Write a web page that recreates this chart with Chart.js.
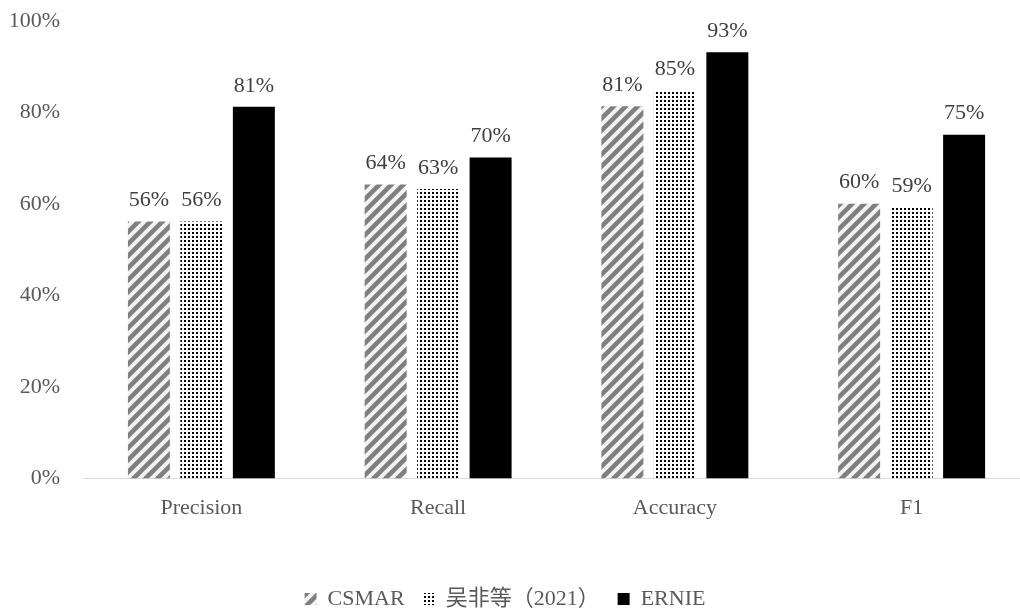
<!DOCTYPE html>
<html>
<head>
    <title>Model comparison</title>
    <script src="https://cdn.jsdelivr.net/npm/chart.js"></script>
    <style>
        body { margin: 0; background: #fff; }
        .chart-container { width: 1020px; height: 611px; }
    </style>
</head>
<body>
    <div class="chart-container">
        <canvas id="metricChart"></canvas>
    </div>
    <script type="text/javascript">
        var categories = ['Precision', 'Recall', 'Accuracy', 'F1'];
        var seriesNames = ['CSMAR', '吴非等（2021）', 'ERNIE'];
        var csmarValues = [56.2, 64.3, 81.4, 60.1];
        var wuValues = [56.2, 63.3, 84.9, 59.4];
        var ernieValues = [81.3, 70.2, 93.2, 75.2];
        var yTicks = [0, 20, 40, 60, 80, 100];

        var FONT = '"Liberation Serif", "Times New Roman", "Noto Sans CJK SC", serif';

        // diagonal gray stripes
        function stripePattern() {
            var s = 12;
            var c = document.createElement('canvas');
            c.width = s; c.height = s;
            var g = c.getContext('2d');
            g.fillStyle = '#f2f2f2';
            g.fillRect(0, 0, s, s);
            g.strokeStyle = '#7f7f7f';
            g.lineWidth = 4.5;
            g.beginPath();
            for (var k = -1; k <= 1; k++) {
                g.moveTo(k * s - 2, s + 2);
                g.lineTo(k * s + s + 2, -2);
            }
            g.stroke();
            return g.createPattern(c, 'repeat');
        }

        // small black dots
        function dotPattern() {
            var c = document.createElement('canvas');
            c.width = 4; c.height = 4;
            var g = c.getContext('2d');
            g.fillStyle = '#ffffff';
            g.fillRect(0, 0, 4, 4);
            g.fillStyle = '#000000';
            g.fillRect(0, 0, 2, 2);
            return g.createPattern(c, 'repeat');
        }

        // the original plot area runs past the right edge and closer to the top
        var stretchArea = {
            id: 'stretchArea',
            afterLayout: function(chart) {
                var x = chart.scales.x, y = chart.scales.y, area = chart.chartArea;
                x.right += 20;
                x.width = x.right - x.left;
                x.configure();
                y.top -= 7;
                y.height = y.bottom - y.top;
                y.configure();
                area.right = x.right;
                area.top = y.top;
                area.width = area.right - area.left;
                area.height = area.bottom - area.top;
            }
        };

        var valueLabels = {
            id: 'valueLabels',
            afterDatasetsDraw: function(chart) {
                var ctx = chart.ctx;
                ctx.save();
                ctx.font = '22px ' + FONT;
                ctx.fillStyle = '#404040';
                ctx.textAlign = 'center';
                ctx.textBaseline = 'bottom';
                chart.data.datasets.forEach(function(ds, i) {
                    chart.getDatasetMeta(i).data.forEach(function(bar, j) {
                        ctx.fillText(Math.round(ds.data[j]) + '%', bar.x, bar.y - 10);
                    });
                });
                ctx.restore();
            }
        };

        var ctx = document.getElementById('metricChart').getContext('2d');
        new Chart(ctx, {
            type: 'bar',
            data: {
                labels: categories,
                datasets: [
                    { label: seriesNames[0], data: csmarValues, backgroundColor: stripePattern() },
                    { label: seriesNames[1], data: wuValues, backgroundColor: dotPattern() },
                    { label: seriesNames[2], data: ernieValues, backgroundColor: '#000000' }
                ]
            },
            options: {
                responsive: true,
                maintainAspectRatio: false,
                animation: false,
                layout: { padding: { left: 0, right: 10, top: 0, bottom: -9 } },
                datasets: { bar: { categoryPercentage: 0.665, barPercentage: 0.8 } },
                scales: {
                    x: {
                        grid: { display: false },
                        border: { color: '#d9d9d9', width: 1 },
                        ticks: { color: '#595959', font: { family: FONT, size: 22 }, padding: 8 },
                        afterFit: function(axis) { axis.height += 41; }
                    },
                    y: {
                        min: 0,
                        max: 100,
                        afterBuildTicks: function(axis) {
                            axis.ticks = yTicks.map(function(v) { return { value: v }; });
                        },
                        afterFit: function(axis) { axis.width = 83; },
                        grid: { display: false },
                        border: { display: false },
                        ticks: {
                            color: '#595959',
                            font: { family: FONT, size: 22 },
                            padding: 15,
                            callback: function(v) { return v + '%'; }
                        }
                    }
                },
                plugins: {
                    tooltip: { enabled: false },
                    legend: {
                        position: 'bottom',
                        labels: {
                            color: '#595959',
                            font: { family: FONT, size: 22 },
                            boxWidth: 12,
                            boxHeight: 12,
                            padding: 18
                        }
                    }
                }
            },
            plugins: [stretchArea, valueLabels]
        });
    </script>
</body>
</html>
